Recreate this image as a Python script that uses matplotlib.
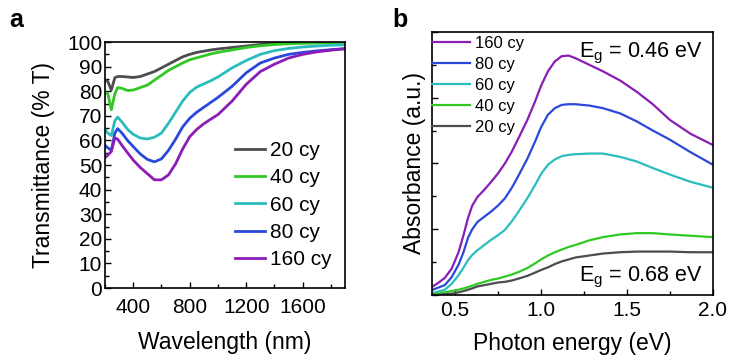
import matplotlib
matplotlib.use("Agg")
import matplotlib.pyplot as plt
from matplotlib.ticker import MultipleLocator

plt.rcParams['font.family'] = ['Liberation Sans', 'DejaVu Sans']

# ---- panel a: transmittance ----
wavelength = [200, 220, 245, 270, 290, 320, 360, 400, 450, 500, 550, 600, 650, 700,
              750, 800, 850, 900, 950, 1000, 1100, 1200, 1300, 1400, 1500, 1600,
              1700, 1800, 1900]
t_20 = [84.5, 84, 80.5, 85.5, 86, 86, 85.8, 85.6, 86, 87, 88, 89.5, 91, 92.5,
        94, 95, 95.8, 96.3, 96.8, 97.2, 97.8, 98.4, 99, 99.4, 99.6, 99.7, 99.8, 99.9, 100]
t_40 = [79.5, 79, 72.5, 79, 81.5, 81.2, 80.3, 80.5, 81.5, 82.5, 84.5, 86.5, 88.5, 90,
        91.5, 92.8, 93.6, 94.4, 95.2, 95.8, 96.8, 97.8, 98.5, 99, 99.3, 99.5, 99.6, 99.7, 99.8]
t_60 = [64.5, 63, 62, 68, 69.5, 67.5, 64.5, 62.5, 61, 60.6, 61.3, 63, 67, 71.5,
        76, 79.5, 81.7, 83, 84.3, 85.8, 89.5, 92.5, 95, 96.5, 97.4, 98, 98.4, 98.7, 98.9]
t_80 = [58, 57, 56, 63, 64.8, 63, 60, 57.5, 54.5, 52.3, 51.3, 52.5, 56, 60.5,
        65.5, 69, 71.5, 73.5, 75.5, 77.5, 82, 87.5, 91.5, 93.5, 95, 95.8, 96.4, 96.9, 97.3]
t_160 = [53, 54, 55.5, 61, 60.5, 58, 55, 52, 49, 46.5, 44, 44, 46, 50.5,
         56.5, 61.5, 64.5, 66.8, 68.7, 70.5, 76, 82.8, 88, 91, 93.5, 95, 96, 96.7, 97.3]

# ---- panel b: absorbance ----
energy = [0.37, 0.40, 0.44, 0.48, 0.52, 0.55, 0.575, 0.60, 0.63, 0.67, 0.71, 0.75,
          0.79, 0.83, 0.87, 0.92, 0.965, 1.0, 1.04, 1.08, 1.12, 1.16, 1.2, 1.28,
          1.36, 1.46, 1.556, 1.65, 1.75, 1.87, 2.0]
a_160 = [0.13, 0.18, 0.26, 0.40, 0.65, 0.92, 1.17, 1.36, 1.49, 1.60, 1.72, 1.85,
         2.0, 2.18, 2.39, 2.66, 2.94, 3.18, 3.4, 3.55, 3.63, 3.64, 3.6, 3.5,
         3.4, 3.26, 3.09, 2.9, 2.66, 2.45, 2.28]
a_80 = [0.08, 0.11, 0.15, 0.27, 0.46, 0.66, 0.87, 1.0, 1.11, 1.19, 1.27, 1.36,
        1.47, 1.63, 1.82, 2.07, 2.33, 2.55, 2.74, 2.84, 2.89, 2.9, 2.9, 2.88,
        2.84, 2.76, 2.64, 2.5, 2.36, 2.17, 1.98]
a_60 = [0.03, 0.05, 0.08, 0.17, 0.30, 0.42, 0.53, 0.61, 0.68, 0.76, 0.84, 0.91,
        0.99, 1.12, 1.27, 1.47, 1.67, 1.84, 1.98, 2.06, 2.11, 2.13, 2.14, 2.15,
        2.15, 2.1, 2.03, 1.93, 1.83, 1.72, 1.63]
a_40 = [0.01, 0.02, 0.04, 0.06, 0.08, 0.10, 0.12, 0.14, 0.17, 0.20, 0.23, 0.25,
        0.28, 0.31, 0.35, 0.41, 0.48, 0.54, 0.60, 0.65, 0.69, 0.73, 0.76, 0.83,
        0.88, 0.92, 0.94, 0.94, 0.92, 0.90, 0.88]
a_20 = [0.0, 0.0, 0.01, 0.02, 0.04, 0.06, 0.08, 0.10, 0.13, 0.15, 0.17, 0.19,
        0.20, 0.22, 0.25, 0.29, 0.34, 0.38, 0.42, 0.47, 0.51, 0.54, 0.57, 0.60,
        0.63, 0.65, 0.66, 0.66, 0.66, 0.65, 0.65]

labels = ['20 cy', '40 cy', '60 cy', '80 cy', '160 cy']
colors = ['#4d4d4d', '#30c822', '#2bbdbd', '#2a48dc', '#8b1cb5']

fig = plt.figure(figsize=(7.32, 3.58), dpi=100)

# panel a
ax1 = fig.add_axes([0.1434, 0.1955, 0.328, 0.687])
for ys, lab, c in zip([t_20, t_40, t_60, t_80, t_160], labels, colors):
    ax1.plot(wavelength, ys, color=c, lw=2.0, label=lab, solid_joinstyle='round')
ax1.set_xlim(200, 1900)
ax1.set_ylim(0, 100)
ax1.set_xticks([400, 800, 1200, 1600])
ax1.xaxis.set_minor_locator(MultipleLocator(200))
ax1.yaxis.set_major_locator(MultipleLocator(10))
ax1.yaxis.set_minor_locator(MultipleLocator(5))
ax1.tick_params(which='both', direction='in', labelsize=15, top=False, right=False, pad=2)
ax1.tick_params(axis='x', which='both', pad=7)
ax1.tick_params(which='major', length=4, width=1)
ax1.tick_params(which='minor', length=3, width=1)
ax1.set_xlabel('Wavelength (nm)', fontsize=16.5, labelpad=10)
ax1.set_ylabel('Transmittance (% T)', fontsize=16.5, labelpad=9)
ax1.legend(loc='upper left', frameon=False, fontsize=15, handlelength=1.45,
           handletextpad=0.25, labelspacing=0.4, borderpad=0, borderaxespad=0,
           bbox_to_anchor=(0.54, 0.598))
for s in ax1.spines.values():
    s.set_linewidth(1.2)

# panel b
ax2 = fig.add_axes([0.590, 0.176, 0.384, 0.735])
for ys, lab, c in zip([a_160, a_80, a_60, a_40, a_20], labels[::-1], colors[::-1]):
    ax2.plot(energy, ys, color=c, lw=1.6, label=lab, solid_joinstyle='round')
ax2.set_xlim(0.365, 2.0)
ax2.set_ylim(0, 4)
ax2.xaxis.set_major_locator(MultipleLocator(0.5))
ax2.xaxis.set_minor_locator(MultipleLocator(0.25))
ax2.yaxis.set_major_locator(MultipleLocator(1))
ax2.yaxis.set_minor_locator(MultipleLocator(0.5))
ax2.tick_params(which='both', direction='in', labelsize=15, top=False, right=False, pad=4)
ax2.tick_params(which='major', length=4, width=1)
ax2.tick_params(which='minor', length=3, width=1)
ax2.tick_params(axis='y', labelleft=False)
ax2.set_xlabel('Photon energy (eV)', fontsize=16.5, labelpad=9)
ax2.set_ylabel('Absorbance (a.u.)', fontsize=16.5, labelpad=0.5)
ax2.legend(loc='upper left', frameon=False, fontsize=12, handlelength=2.3,
           handletextpad=0.3, labelspacing=0.36, borderpad=0, borderaxespad=0,
           bbox_to_anchor=(0.0, 0.985))
ax2.text(0.965, 0.965, r'E$_\mathregular{g}$ = 0.46 eV', transform=ax2.transAxes,
         ha='right', va='top', fontsize=15.5)
ax2.text(0.965, 0.05, r'E$_\mathregular{g}$ = 0.68 eV', transform=ax2.transAxes,
         ha='right', va='baseline', fontsize=15.5)
for s in ax2.spines.values():
    s.set_linewidth(1.2)

fig.text(0.012, 0.925, 'a', fontsize=18, fontweight='bold')
fig.text(0.536, 0.925, 'b', fontsize=18, fontweight='bold')

fig.savefig('out.png', dpi=100)
